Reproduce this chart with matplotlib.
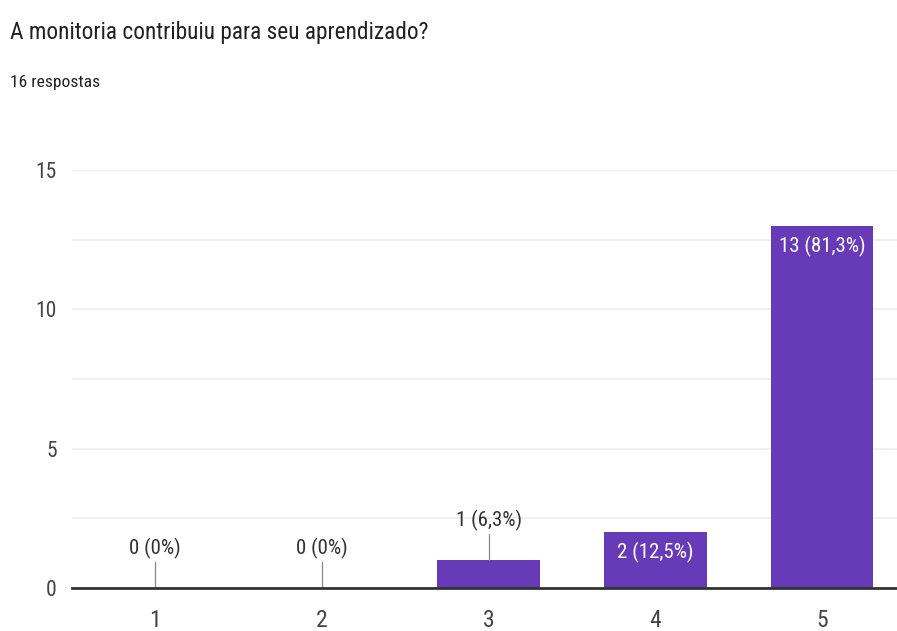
import matplotlib
matplotlib.use("Agg")
import matplotlib.pyplot as plt
from matplotlib import font_manager

names = {f.name for f in font_manager.fontManager.ttflist}
fam = 'Roboto'
for cand in ['Roboto Condensed', 'Liberation Sans Narrow', 'Open Sans Condensed']:
    if cand in names:
        fam = cand
        break
plt.rcParams['font.family'] = [fam, 'Roboto', 'DejaVu Sans']
cond = fam != 'Roboto'

categories = ["1", "2", "3", "4", "5"]
counts = [0, 0, 1, 2, 13]
labels = ["0 (0%)", "0 (0%)", "1 (6,3%)", "2 (12,5%)", "13 (81,3%)"]
yticks = [0, 5, 10, 15]
title = "A monitoria contribuiu para seu aprendizado?"
subtitle = "16 respostas"

W, H = 897, 631
fig = plt.figure(figsize=(W / 100, H / 100), dpi=100)
ax = fig.add_axes([72 / W, 1 - 588 / H, (W - 72) / W, (588 - 170) / H])

x = list(range(1, len(categories) + 1))
purple = "#673ab7"
ax.bar(x, counts, width=0.615, color=purple, zorder=3)

k = 1.0 if cond else 0.87
ax.set_xlim(0.5, 5.45)
ax.set_ylim(0, 15)
ax.set_yticks(yticks)
ax.set_yticks([2.5, 7.5, 12.5], minor=True)
ax.set_xticks(x)
ax.set_xticklabels(categories)
ax.grid(axis='y', which='both', color='#ececec', linewidth=1.2, zorder=0)
ax.tick_params(axis='both', which='both', length=0, colors='#444444')
ax.tick_params(axis='y', labelsize=15.5 * k, pad=11)
ax.tick_params(axis='x', labelsize=17 * k, pad=15)
for s in ['top', 'right', 'left']:
    ax.spines[s].set_visible(False)
ax.spines['bottom'].set_color('#333333')
ax.spines['bottom'].set_linewidth(2)
ax.spines['bottom'].set_zorder(4)

for xi, c, lab in zip(x, counts, labels):
    if c >= 2:
        ax.text(xi, c - 0.35, lab, ha='center', va='top', color='white', fontsize=15 * k, zorder=5)
    else:
        ax.plot([xi, xi], [c, c + 0.95], color='#888888', linewidth=0.9, zorder=4)
        ax.text(xi, c + 1.05, lab, ha='center', va='bottom', color='#333333', fontsize=15 * k, zorder=5)

fig.text(10 / W, 1 - 32 / H, title, fontsize=16.8 * k, color='#212121', va='center', ha='left')
fig.text(10 / W, 1 - 82 / H, subtitle, fontsize=12.6 * k, color='#212121', va='center', ha='left')

fig.savefig("out.png", dpi=100)
